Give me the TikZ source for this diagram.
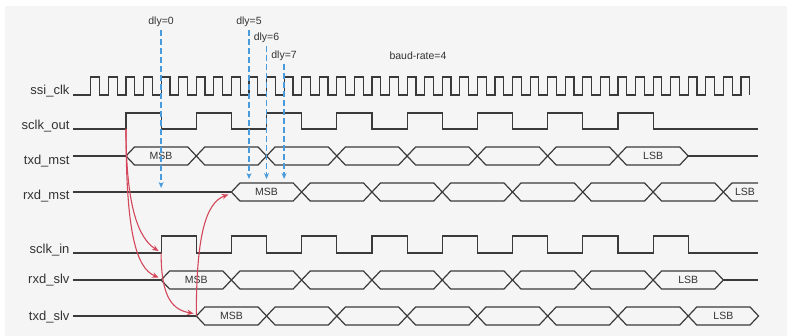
\documentclass[tikz,border=0pt]{standalone}
\usepackage{fontspec}
\setmainfont{Liberation Sans}
\setsansfont{Liberation Sans}
\usetikzlibrary{arrows.meta, calc}
\definecolor{cbg}{HTML}{F5F5F5}
\definecolor{cwave}{HTML}{3A3A3A}
\definecolor{ctext}{HTML}{333333}
\definecolor{cblue}{HTML}{4A9BDC}
\definecolor{cred}{HTML}{D4475B}
\tikzset{
  every picture/.style={font=\sffamily, line width=1.2pt},
  wave/.style={draw=cwave, line width=1.2pt, line join=miter},
  sig/.style={font=\sffamily\fontsize{13}{15}\selectfont, text=ctext, anchor=east, inner sep=0pt},
  cell/.style={font=\sffamily\fontsize{10.5}{12}\selectfont, text=ctext, inner sep=0pt},
  note/.style={font=\sffamily\fontsize{10.5}{12}\selectfont, text=ctext, inner sep=0pt},
  dlyline/.style={draw=cblue, line width=1.3pt, dash pattern=on 6pt off 3pt, -{Stealth[length=6pt, width=5pt]}},
  cause/.style={draw=cred, line width=1.1pt, -{Stealth[length=6.5pt, width=5.5pt]}},
}
% one bus row: #1 = centre y, #2 = first edge x, #3 = number of cells
\newcommand{\buscells}[3]{%
  \foreach \k in {1,...,#3}
    \draw[wave] ({#2+70.28*(\k-1)},#1) -- ++(8.5,-9) -- ({#2+70.28*\k-8.5},{#1-9})
      -- ({#2+70.28*\k},#1) -- ({#2+70.28*\k-8.5},{#1+9}) -- ({#2+70.28*(\k-1)+8.5},{#1+9}) -- cycle;
}

\begin{document}
\begin{tikzpicture}[x=1pt, y=-1pt]
  \useasboundingbox (0,0) rectangle (787,336);
  \fill[cbg] (5,6) rectangle (787,336);

  % signal names
  \node[sig] (ssiclk) at (70,91) {ssi\_clk};
  \node[sig] (sclkout) at (70,126.5) {sclk\_out};
  \node[sig] (txdmst) at (70,161) {txd\_mst};
  \node[sig] (rxdmst) at (70,196) {rxd\_mst};
  \node[sig] (sclkin) at (70,250) {sclk\_in};
  \node[sig] (rxdslv) at (70,280) {rxd\_slv};
  \node[sig] (txdslv) at (70,317.5) {txd\_slv};

  % clocks
  \draw[wave] (73,95) \foreach \k in {0,...,37} { -- ({90.86+17.57*\k},95) -- ++(0,-18) -- ++(8.78,0) -- ++(0,18) };
  \draw[wave] (73,129) \foreach \k in {0,...,7} { -- ({126+70.28*\k},129) -- ++(0,-16) -- ++(35.14,0) -- ++(0,16) } -- (758,129);
  \draw[wave] (73,253) \foreach \k in {0,...,7} { -- ({161.14+70.28*\k},253) -- ++(0,-17) -- ++(35.14,0) -- ++(0,17) } -- (758,253);

  % txd_mst
  \draw[wave] (73,156) -- (126,156);
  \buscells{156}{126}{8}
  \draw[wave] (688.2,156) -- (758,156);
  \node[cell] (txm-msb) at (161.1,156) {MSB};
  \node[cell] (txm-lsb) at (653.1,156) {LSB};

  % rxd_mst
  \draw[wave] (73,192) -- (231.4,192);
  \buscells{192}{231.4}{7}
  \draw[wave] (758,183) -- (731.9,183) -- (723.4,192) -- (731.9,201) -- (758,201);
  \node[cell] (rxm-msb) at (266.5,192) {MSB};
  \node[cell] (rxm-lsb) at (745,192) {LSB};

  % rxd_slv
  \draw[wave] (73,280) -- (161.1,280);
  \buscells{280}{161.1}{8}
  \draw[wave] (723.4,280) -- (758,280);
  \node[cell] (rxs-msb) at (196.3,280) {MSB};
  \node[cell] (rxs-lsb) at (688.2,280) {LSB};

  % txd_slv
  \draw[wave] (73,316) -- (196.3,316);
  \buscells{316}{196.3}{8}
  \node[cell] (txs-msb) at (231.4,316) {MSB};
  \node[cell] (txs-lsb) at (723.4,316) {LSB};

  % sampling delays
  \node[note, anchor=south] (d0) at (161.1,27) {dly=0};
  \node[note, anchor=south] (d5) at (249,27) {dly=5};
  \node[note, anchor=south] (d6) at (266.5,43.5) {dly=6};
  \node[note, anchor=south] (d7) at (284.1,61) {dly=7};
  \node[note, anchor=base] (baud) at (418,60) {baud-rate=4};
  \coordinate (d0-tip) at (161.1,188);
  \coordinate (d5-tip) at (249,179);
  \coordinate (d6-tip) at (266.5,179);
  \coordinate (d7-tip) at (284.1,179);
  \draw[dlyline] ([yshift=-3pt]d0.south) -- (d0-tip);
  \draw[dlyline] ([yshift=-3pt]d5.south) -- (d5-tip);
  \draw[dlyline] ([yshift=-3pt]d6.south) -- (d6-tip);
  \draw[dlyline] ([yshift=-3pt]d7.south) -- (d7-tip);

  % cause and effect
  \coordinate (so-r0) at (126,129);
  \coordinate (si-r0) at (161.1,253);
  \coordinate (rs-start) at (161.1,280);
  \coordinate (ts-start) at (196.3,316);
  \coordinate (rm-start) at (231.4,192);
  \draw[cause] (so-r0) .. controls (126,205) and (138,238) .. ([xshift=-2.5pt, yshift=2pt]si-r0);
  \draw[cause] (so-r0) .. controls (126,232) and (136,268) .. ([xshift=-2.5pt, yshift=2.5pt]rs-start);
  \draw[cause] (si-r0) .. controls (161.1,300) and (174,310) .. ([xshift=-2.7pt, yshift=2.5pt]ts-start);
  \draw[cause] (ts-start) .. controls (196.3,238) and (205,203) .. ([xshift=-3pt, yshift=-2.5pt]rm-start);
\end{tikzpicture}
\end{document}
